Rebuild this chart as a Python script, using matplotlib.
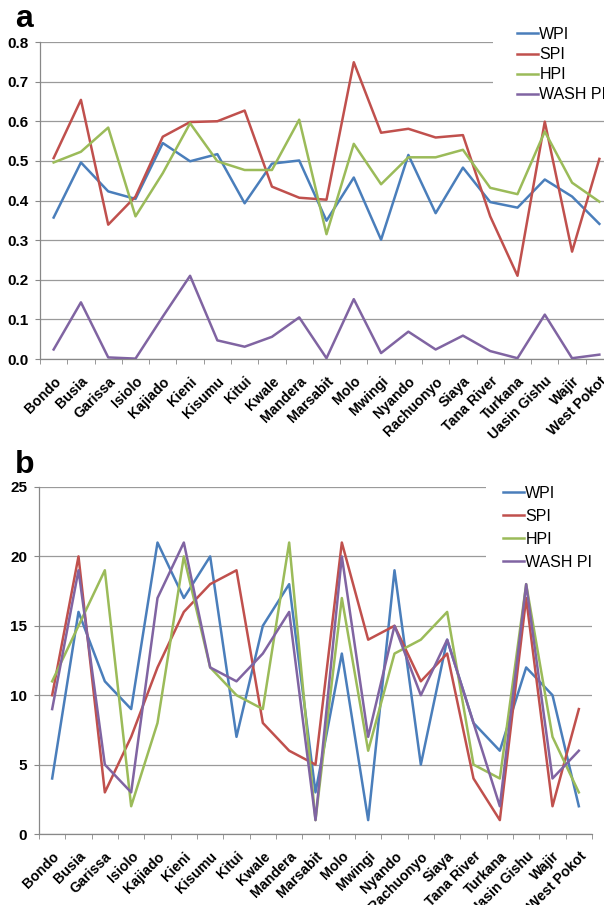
import matplotlib
matplotlib.use('Agg')
import matplotlib.pyplot as plt
from matplotlib.patches import Rectangle
from matplotlib.ticker import FixedLocator, FormatStrFormatter

plt.rcParams['font.family'] = ['Liberation Sans', 'DejaVu Sans']

# county names (x categories)
counties = ["Bondo", "Busia", "Garissa", "Isiolo", "Kajiado", "Kieni", "Kisumu",
            "Kitui", "Kwale", "Mandera", "Marsabit", "Molo", "Mwingi", "Nyando",
            "Rachuonyo", "Siaya", "Tana River", "Turkana", "Uasin Gishu", "Wajir",
            "West Pokot"]

# panel a: index values
wpi = [0.357, 0.496, 0.423, 0.404, 0.545, 0.499, 0.517, 0.393, 0.493, 0.501, 0.349,
       0.458, 0.301, 0.515, 0.368, 0.483, 0.396, 0.382, 0.453, 0.410, 0.341]
spi = [0.507, 0.654, 0.339, 0.410, 0.561, 0.598, 0.600, 0.627, 0.435, 0.407, 0.402,
       0.749, 0.571, 0.581, 0.559, 0.565, 0.360, 0.210, 0.599, 0.271, 0.505]
hpi = [0.496, 0.523, 0.584, 0.360, 0.469, 0.595, 0.499, 0.477, 0.477, 0.604, 0.315,
       0.543, 0.441, 0.509, 0.509, 0.528, 0.432, 0.416, 0.574, 0.445, 0.397]
wash = [0.024, 0.143, 0.004, 0.001, 0.107, 0.210, 0.047, 0.031, 0.056, 0.105, 0.002,
        0.151, 0.015, 0.069, 0.024, 0.059, 0.020, 0.002, 0.112, 0.002, 0.011]

# panel b: ranks
wpi_rank = [4, 16, 11, 9, 21, 17, 20, 7, 15, 18, 3, 13, 1, 19, 5, 14, 8, 6, 12, 10, 2]
spi_rank = [10, 20, 3, 7, 12, 16, 18, 19, 8, 6, 5, 21, 14, 15, 11, 13, 4, 1, 17, 2, 9]
hpi_rank = [11, 15, 19, 2, 8, 20, 12, 10, 9, 21, 1, 17, 6, 13, 14, 16, 5, 4, 18, 7, 3]
wash_rank = [9, 19, 5, 3, 17, 21, 12, 11, 13, 16, 1, 20, 7, 15, 10, 14, 8, 2, 18, 4, 6]

labels = ["WPI", "SPI", "HPI", "WASH PI"]
colors = ['#4a7ebb', '#c0504d', '#9bbb59', '#8064a2']

W, H = 604, 905
fig = plt.figure(figsize=(W / 100, H / 100), dpi=100, facecolor='white')


def px_rect(left, top, right, bottom):
    """Pixel box -> figure fraction [l, b, w, h]."""
    return [left / W, 1 - bottom / H, (right - left) / W, (bottom - top) / H]


def draw_panel(ax, series, yticks, fmt, legend_xy, spacing, mask_box):
    x = list(range(len(counties)))
    handles = []
    for vals, c, lab in zip(series, colors, labels):
        h, = ax.plot(x, vals, color=c, lw=1.8, label=lab, zorder=3)
        handles.append(h)

    ax.set_xlim(-0.5, len(counties) - 0.5)
    ax.set_ylim(yticks[0], yticks[-1])
    ax.set_yticks(yticks)
    ax.yaxis.set_major_formatter(FormatStrFormatter(fmt))
    ax.set_axisbelow(True)
    ax.grid(axis='y', color='#9a9a9a', lw=0.9)

    ax.set_xticks(x)
    ax.set_xticklabels(counties, rotation=45, ha='right', va='top',
                       rotation_mode='anchor', fontweight='bold', fontsize=10.2)
    ax.xaxis.set_minor_locator(FixedLocator([i - 0.5 for i in range(len(counties) + 1)]))
    ax.tick_params(axis='x', which='major', length=0, pad=11)
    ax.tick_params(axis='x', which='minor', length=3.5, color='#888888', direction='out')
    ax.tick_params(axis='y', length=3.5, color='#888888', pad=5, labelsize=11)
    for t in ax.get_yticklabels():
        t.set_fontweight('bold')

    for s in ['top', 'right']:
        ax.spines[s].set_visible(False)
    for s in ['left', 'bottom']:
        ax.spines[s].set_color('#888888')
        ax.spines[s].set_linewidth(0.9)

    # white legend area covering the gridlines
    l, t, r, b = mask_box
    ax.add_patch(Rectangle((l / W, 1 - b / H), (r - l) / W, (b - t) / H,
                           transform=fig.transFigure, facecolor='white',
                           edgecolor='none', zorder=1))

    fig.legend(handles=handles, loc='upper left',
               bbox_to_anchor=(legend_xy[0] / W, 1 - legend_xy[1] / H),
               frameon=False, fontsize=11.5, handlelength=1.3, handletextpad=0.1,
               labelspacing=spacing, borderpad=0, borderaxespad=0)


ax_a = fig.add_axes(px_rect(40, 42, 613, 359))
draw_panel(ax_a, [wpi, spi, hpi, wash], [0, 0.1, 0.2, 0.3, 0.4, 0.5, 0.6, 0.7, 0.8],
           '%.1f', (517, 27), 0.32, (493, 0, 610, 110))

ax_b = fig.add_axes(px_rect(39, 487, 592, 834))
draw_panel(ax_b, [wpi_rank, spi_rank, hpi_rank, wash_rank], [0, 5, 10, 15, 20, 25],
           '%d', (503, 486), 0.5, (486, 470, 610, 595))

fig.text(15 / W, 1 - 27 / H, 'a', fontsize=23, fontweight='bold', va='baseline')
fig.text(15 / W, 1 - 473 / H, 'b', fontsize=23, fontweight='bold', va='baseline')

fig.savefig('out.png', dpi=100, facecolor='white')
